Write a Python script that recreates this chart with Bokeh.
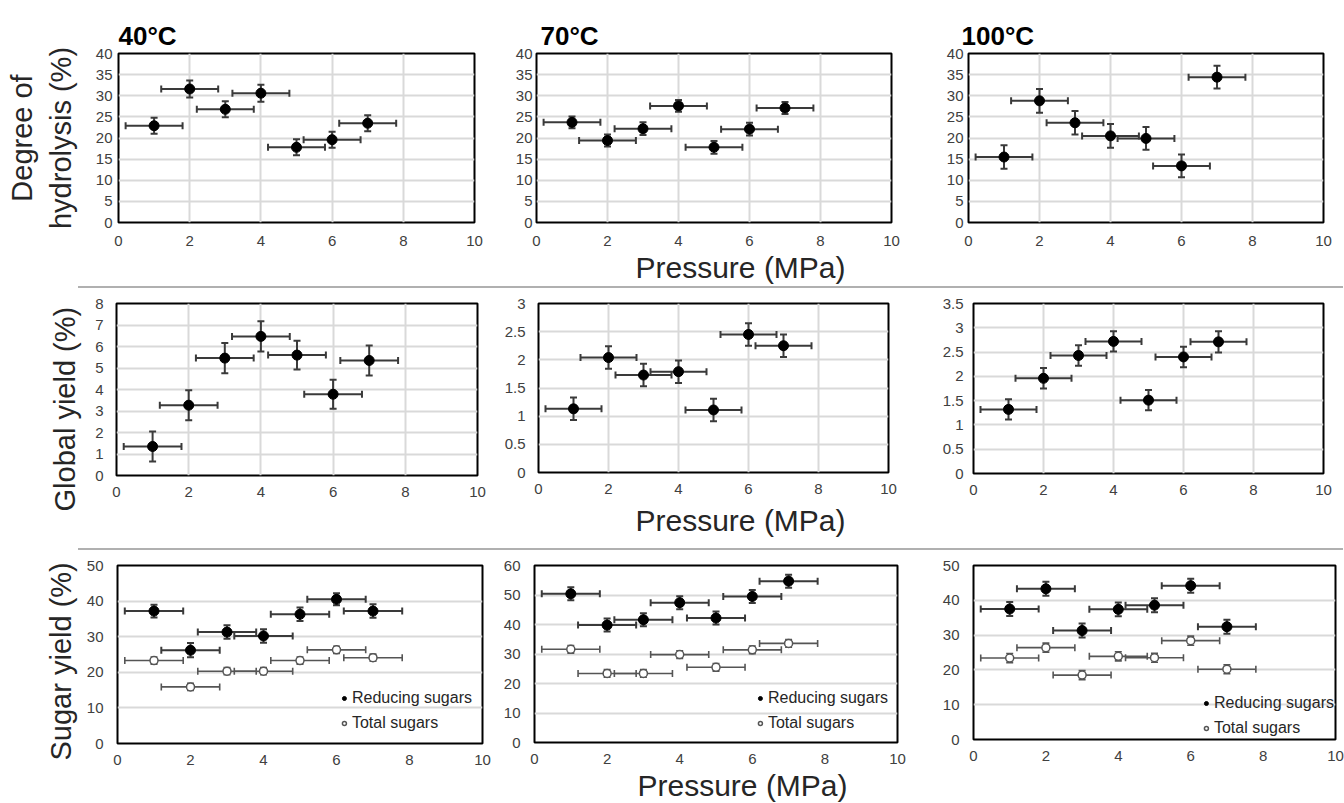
from bokeh.plotting import figure
from bokeh.models import (ColumnDataSource, Whisker, TeeHead, Range1d, SingleIntervalTicker,
                          NumeralTickFormatter, Title, Spacer, Div)
from bokeh.layouts import column, row
from bokeh.embed import file_html
from bokeh.resources import INLINE

# ---------------- data ----------------
pressure = [1, 2, 3, 4, 5, 6, 7]
pressure_err = [0.8, 0.8, 0.8, 0.8, 0.8, 0.8, 0.8]

dh_40 = [22.9, 31.6, 26.8, 30.6, 17.8, 19.6, 23.5]
dh_40_err = [1.9, 2.0, 1.9, 2.0, 1.9, 1.9, 1.9]
dh_70 = [23.7, 19.4, 22.2, 27.6, 17.8, 22.1, 27.1]
dh_70_err = [1.4, 1.4, 1.5, 1.4, 1.5, 1.5, 1.4]
dh_100 = [15.5, 28.8, 23.6, 20.5, 19.9, 13.4, 34.4]
dh_100_err = [2.8, 2.8, 2.8, 2.8, 2.7, 2.7, 2.7]

gy_40 = [1.35, 3.27, 5.46, 6.47, 5.60, 3.78, 5.35]
gy_40_err = [0.7, 0.7, 0.7, 0.7, 0.67, 0.67, 0.7]
gy_70 = [1.13, 2.04, 1.73, 1.79, 1.11, 2.45, 2.25]
gy_70_err = [0.2, 0.2, 0.2, 0.2, 0.2, 0.2, 0.2]
gy_100 = [1.32, 1.96, 2.43, 2.72, 1.51, 2.40, 2.71]
gy_100_err = [0.21, 0.21, 0.21, 0.21, 0.21, 0.21, 0.22]

rs_40 = [37.2, 26.2, 31.3, 30.2, 36.3, 40.5, 37.2]
rs_40_err = [1.8, 2.0, 1.9, 1.9, 1.9, 1.7, 1.9]
ts_40 = [23.3, 15.9, 20.3, 20.3, 23.3, 26.3, 24.1]
ts_40_err = [1.0, 1.0, 1.0, 1.0, 1.0, 1.0, 1.0]
rs_70 = [50.4, 39.8, 41.6, 47.4, 42.2, 49.5, 54.7]
rs_70_err = [2.2, 2.2, 2.2, 2.2, 2.2, 2.2, 2.2]
ts_70 = [31.6, 23.4, 23.4, 29.8, 25.5, 31.4, 33.6]
ts_70_err = [1.3, 1.3, 1.3, 1.3, 1.3, 1.3, 1.3]
rs_100 = [37.5, 43.3, 31.3, 37.4, 38.6, 44.2, 32.4]
rs_100_err = [2.0, 2.0, 2.0, 2.0, 2.0, 2.0, 2.0]
ts_100 = [23.4, 26.4, 18.5, 23.9, 23.5, 28.4, 20.2]
ts_100_err = [1.3, 1.3, 1.3, 1.3, 1.3, 1.3, 1.3]

titles = ["40°C", "70°C", "100°C"]
ylabels = ["Degree of\nhydrolysis (%)", "Global yield (%)", "Sugar yield (%)"]
xlabel = "Pressure (MPa)"
legend_labels = ["Reducing sugars", "Total sugars"]

FONT = "Liberation Sans"


def add_series(p, y, yerr, filled, label=None):
    lower = [v - e for v, e in zip(y, yerr)]
    upper = [v + e for v, e in zip(y, yerr)]
    xl = [v - e for v, e in zip(pressure, pressure_err)]
    xu = [v + e for v, e in zip(pressure, pressure_err)]
    src = ColumnDataSource(dict(x=pressure, y=y, lower=lower, upper=upper, xl=xl, xu=xu))
    col = "#3a3a3a" if filled else "#555555"
    lw = 2 if filled else 1.6
    for w in (
        Whisker(base="x", lower="lower", upper="upper", dimension="height", source=src),
        Whisker(base="y", lower="xl", upper="xu", dimension="width", source=src),
    ):
        w.line_color = col
        w.line_width = lw
        w.upper_head = TeeHead(size=7, line_color=col, line_width=lw)
        w.lower_head = TeeHead(size=7, line_color=col, line_width=lw)
        p.add_layout(w)
    kw = {}
    if label:
        kw["legend_label"] = label
    if filled:
        p.scatter("x", "y", source=src, size=10, fill_color="black", line_color="black", **kw)
    else:
        p.scatter("x", "y", source=src, size=8, fill_color="white", line_color="#555555",
                  line_width=1.5, **kw)


def panel(fw, fh, bl, bt, br, bb, ymax, ystep, series, title=None, title_offset=0,
          ylabel=None, ylabel_mode="axis", ylabel_standoff=10, ylabel_offset=0,
          ytick_standoff=6, xtick_standoff=14,
          xlabel_offset=None, xlabel_standoff=0, vgrid=True, legend_margin=None):
    p = figure(frame_width=fw, frame_height=fh, min_border_left=bl, min_border_top=bt,
               min_border_right=br, min_border_bottom=bb,
               x_range=Range1d(0, 10), y_range=Range1d(0, ymax),
               output_backend="svg", toolbar_location=None, title=title)
    p.background_fill_color = "white"
    p.border_fill_color = "white"
    p.outline_line_color = "black"
    p.outline_line_width = 2
    if title is not None:
        p.title.text_font = FONT
        p.title.text_font_size = "26px"
        p.title.text_font_style = "bold"
        p.title.text_color = "black"
        p.title.align = "left"
        p.title.offset = title_offset
        p.title.standoff = 5
    p.xaxis.ticker = SingleIntervalTicker(interval=2, num_minor_ticks=0)
    p.yaxis.ticker = SingleIntervalTicker(interval=ystep, num_minor_ticks=0)
    p.yaxis.formatter = NumeralTickFormatter(format="0.[0]")
    for ax in (p.xaxis, p.yaxis):
        ax.axis_line_color = None
        ax.major_tick_line_color = None
        ax.minor_tick_line_color = None
        ax.major_tick_out = 0
        ax.major_tick_in = 0
        ax.major_label_text_font = FONT
        ax.major_label_text_font_size = "15px"
        ax.major_label_text_color = "#404040"
    p.xaxis.major_label_standoff = xtick_standoff
    p.yaxis.major_label_standoff = ytick_standoff
    if ylabel and ylabel_mode == "axis":
        p.yaxis.axis_label = ylabel
        p.yaxis.axis_label_text_font = FONT
        p.yaxis.axis_label_text_font_size = "29px"
        p.yaxis.axis_label_text_font_style = "normal"
        p.yaxis.axis_label_text_color = "#262626"
        p.yaxis.axis_label_standoff = ylabel_standoff
    elif ylabel:
        t = Title(text=ylabel, align="left", offset=ylabel_offset, standoff=ylabel_standoff,
                  text_font=FONT, text_font_size="29px", text_font_style="normal",
                  text_color="#262626")
        p.add_layout(t, "left")
    p.ygrid.grid_line_color = "#d9d9d9"
    p.ygrid.grid_line_width = 2
    if vgrid:
        p.xgrid.grid_line_color = "#d9d9d9"
        p.xgrid.grid_line_width = 2
    else:
        p.xgrid.grid_line_color = None
    for s in series:
        add_series(p, *s)
    if legend_margin is not None:
        lg = p.legend[0]
        lg.location = "bottom_right"
        lg.background_fill_alpha = 0
        lg.border_line_color = None
        lg.label_text_font = FONT
        lg.label_text_font_size = "16px"
        lg.label_text_color = "#262626"
        lg.glyph_width = 10
        lg.glyph_height = 20
        lg.label_height = 20
        lg.label_standoff = 3
        lg.spacing = 5
        lg.padding = 4
        lg.margin = legend_margin
        lg.items = list(reversed(lg.items))
    if xlabel_offset is not None:
        t = Title(text=xlabel, align="left", offset=xlabel_offset, standoff=xlabel_standoff,
                  text_font=FONT, text_font_size="30px", text_font_style="normal",
                  text_color="#262626")
        p.add_layout(t, "below")
    return p


# Row 1 : degree of hydrolysis  (row height 286)
r1 = [
    panel(356, 169, 118, 53, 26, 64, 40, 5, [(dh_40, dh_40_err, True)],
          title=titles[0], title_offset=0, ylabel=ylabels[0], ylabel_standoff=16,
          ytick_standoff=6, xtick_standoff=13),
    panel(355, 169, 36, 53, 39, 64, 40, 5, [(dh_70, dh_70_err, True)],
          title=titles[1], title_offset=4, ytick_standoff=4, xtick_standoff=13,
          xlabel_offset=99, xlabel_standoff=0),
    panel(355, 169, 38, 53, 20, 64, 40, 5, [(dh_100, dh_100_err, True)],
          title=titles[2], title_offset=-7, ytick_standoff=5, xtick_standoff=13),
]

# Row 2 : global yield  (row height 260)
r2 = [
    panel(361, 172, 116, 11, 23, 77, 8, 1, [(gy_40, gy_40_err, True)],
          ylabel=ylabels[1], ylabel_mode="title", ylabel_standoff=24, ylabel_offset=-36,
          ytick_standoff=13, xtick_standoff=11),
    panel(350, 169, 38, 15, 42, 76, 3, 0.5, [(gy_70, gy_70_err, True)],
          ytick_standoff=13, xtick_standoff=11, xlabel_offset=97, xlabel_standoff=10),
    panel(350, 170, 43, 15, 20, 75, 3.5, 0.5, [(gy_100, gy_100_err, True)],
          ytick_standoff=10, xtick_standoff=11),
]

# Row 3 : sugar yield  (row height 252)
r3 = [
    panel(365, 178, 117, 13, 18, 61, 50, 10,
          [(ts_40, ts_40_err, False, legend_labels[1]), (rs_40, rs_40_err, True, legend_labels[0])],
          ylabel=ylabels[2], ylabel_mode="title", ylabel_standoff=14, ylabel_offset=-17,
          ytick_standoff=14, xtick_standoff=11, vgrid=False, legend_margin=10),
    panel(363, 177, 32, 13, 35, 62, 60, 10,
          [(ts_70, ts_70_err, False, legend_labels[1]), (rs_70, rs_70_err, True, legend_labels[0])],
          ytick_standoff=14, xtick_standoff=11, xlabel_offset=103, xlabel_standoff=0,
          vgrid=False, legend_margin=9),
    panel(362, 174, 41, 15, 10, 63, 50, 10,
          [(ts_100, ts_100_err, False, legend_labels[1]), (rs_100, rs_100_err, True, legend_labels[0])],
          ytick_standoff=14, xtick_standoff=11, vgrid=False, legend_margin=1),
]


def separator():
    line = Div(text="", width=1265, height=2, margin=(0, 0, 0, 0),
               styles={"background-color": "#b0b0b0", "height": "2px",
                       "min-height": "2px", "overflow": "hidden"})
    return row(Spacer(width=78, height=2, margin=(0, 0, 0, 0)), line, spacing=0)


layout = column(row(*r1), separator(), row(*r2), separator(), row(*r3), spacing=0)

open("out.html", "w").write(file_html(layout, INLINE, title="Pressure effects"))
